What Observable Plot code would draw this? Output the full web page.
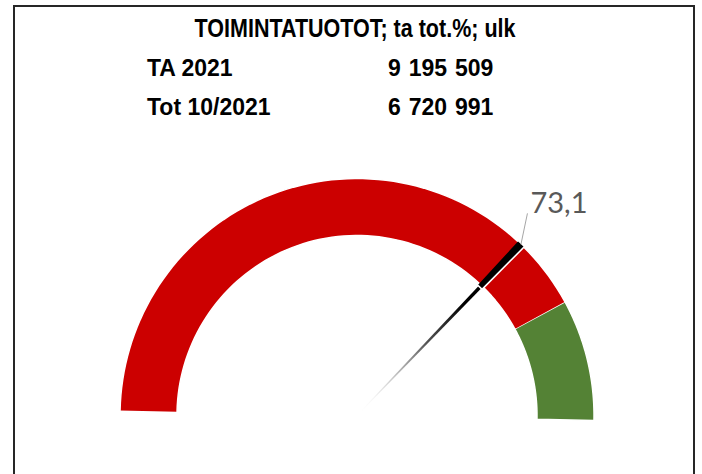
<!DOCTYPE html>
<html>
<head>
<meta charset="utf-8">
<script src="https://cdn.jsdelivr.net/npm/d3@7"></script>
<script src="https://cdn.jsdelivr.net/npm/@observablehq/plot@0.6"></script>
<style>
  html, body { margin: 0; padding: 0; background: #fff; }
  body { width: 702px; height: 474px; overflow: hidden; position: relative; font-family: "Liberation Sans", Arial, sans-serif; }
  #chart { position: absolute; left: 0; top: 0; }
  #frame { position: absolute; left: 13px; top: 5px; width: 682px; height: 520px; border: 2px solid #262626; box-sizing: border-box; }
  .t { position: absolute; font-weight: bold; color: #000; white-space: nowrap; line-height: 1; }
  #title { font-size: 25px; left: 355px; top: 15.8px; transform: translateX(-50%) scaleX(0.86); transform-origin: center; }
  .lab { font-size: 23px; left: 147px; }
  .val { font-size: 23px; left: 388px; word-spacing: 1.5px; }
</style>
</head>
<body>
<div id="chart"></div>
<div id="frame"></div>
<div id="header"></div>
<script>
// ---- data ----
const title = "TOIMINTATUOTOT; ta tot.%; ulk";
const rowLabels = ["TA 2021", "Tot 10/2021"];
const rowValues = [9195509, 6720991];
const bandNames = ["red", "green"];
const bandStarts = [0, 83.5];
const bandEnds = [83.5, 100];
const bandColors = ["#cc0000", "#548235"];
const needleValue = 73.1;

// ---- header ----
const header = document.getElementById("header");
const t = document.createElement("div");
t.className = "t"; t.id = "title"; t.textContent = title;
header.appendChild(t);
const fmt = n => d3.format(",")(n).replace(/,/g, " ");
const rowTops = [56.5, 95.5];
rowLabels.forEach((lab, i) => {
  const a = document.createElement("div");
  a.className = "t lab"; a.style.top = rowTops[i] + "px"; a.textContent = lab;
  const b = document.createElement("div");
  b.className = "t val"; b.style.top = rowTops[i] + "px"; b.textContent = fmt(rowValues[i]);
  header.appendChild(a); header.appendChild(b);
});

// ---- gauge geometry ----
const W = 702, H = 474;
const cx = 356.5, cy = 415, Rpx = 237;
const rOut = 1, rIn = 180 / 237;
const ang = v => (178.8 - 1.8 * v) * Math.PI / 180;

function arcPts(v0, v1, r0, r1, key) {
  const n = 80, pts = [];
  for (let i = 0; i <= n; i++) { const a = ang(v0 + (v1 - v0) * i / n); pts.push({key, x: r1 * Math.cos(a), y: r1 * Math.sin(a)}); }
  for (let i = n; i >= 0; i--) { const a = ang(v0 + (v1 - v0) * i / n); pts.push({key, x: r0 * Math.cos(a), y: r0 * Math.sin(a)}); }
  return pts;
}

const bandMarks = bandNames.map((name, i) =>
  Plot.line(arcPts(bandStarts[i], bandEnds[i], rIn, rOut, name), {
    x: "x", y: "y", fill: bandColors[i], stroke: "white", strokeWidth: 1.5, strokeLinejoin: "miter"
  })
);

// needle: black slice in ring, starting at the value
const needleW = 1.1;
const ringNeedle = arcPts(needleValue, needleValue + needleW, rIn - 0.01, rOut + 0.004, "needle");
const aMid = ang(needleValue + needleW / 2);
const ux = Math.cos(aMid), uy = Math.sin(aMid);
const px = -uy, py = ux; // perpendicular
const wTip = 1.8 / Rpx, wBase = 0.3 / Rpx;
const shaft = [
  {x: px * wBase, y: py * wBase},
  {x: ux * rIn + px * wTip, y: uy * rIn + py * wTip},
  {x: ux * rIn - px * wTip, y: uy * rIn - py * wTip},
  {x: -px * wBase, y: -py * wBase}
];
const tip = {x: ux * rOut, y: uy * rOut};
const leaderEnd = {x: tip.x + 6.5 / Rpx, y: tip.y + 31 / Rpx};

const svg = Plot.plot({
  width: W, height: H, margin: 0,
  x: {domain: [-cx / Rpx, (W - cx) / Rpx], range: [0, W], axis: null},
  y: {domain: [-(H - cy) / Rpx, cy / Rpx], range: [H, 0], axis: null},
  style: {background: "transparent", overflow: "visible"},
  marks: [
    ...bandMarks,
    Plot.line(shaft, {x: "x", y: "y", fill: "url(#needleGrad)", stroke: "none"}),
    Plot.line(ringNeedle, {x: "x", y: "y", fill: "black", stroke: "white", strokeWidth: 1.6}),
    Plot.link([needleValue], {x1: () => tip.x, y1: () => tip.y, x2: () => leaderEnd.x, y2: () => leaderEnd.y, stroke: "#a6a6a6", strokeWidth: 1}),
    Plot.text([needleValue], {
      x: () => tip.x, y: () => tip.y, dx: 9.5, dy: -40.6,
      text: d => d.toFixed(1).replace(".", ","),
      textAnchor: "start", fontSize: 29, fill: "#595959", fontFamily: "Lato, 'Open Sans', sans-serif"
    })
  ]
});

const defs = d3.select(svg).insert("defs", ":first-child");
const g = defs.append("linearGradient").attr("id", "needleGrad")
  .attr("x1", 0).attr("y1", 1).attr("x2", 1).attr("y2", 0);
g.append("stop").attr("offset", "0").attr("stop-color", "#ffffff").attr("stop-opacity", 0);
g.append("stop").attr("offset", "0.15").attr("stop-color", "#e8e8e8").attr("stop-opacity", 0.6);
g.append("stop").attr("offset", "0.55").attr("stop-color", "#555").attr("stop-opacity", 1);
g.append("stop").attr("offset", "0.85").attr("stop-color", "#000").attr("stop-opacity", 1);
g.append("stop").attr("offset", "1").attr("stop-color", "#000").attr("stop-opacity", 1);

document.getElementById("chart").appendChild(svg);
</script>
</body>
</html>
